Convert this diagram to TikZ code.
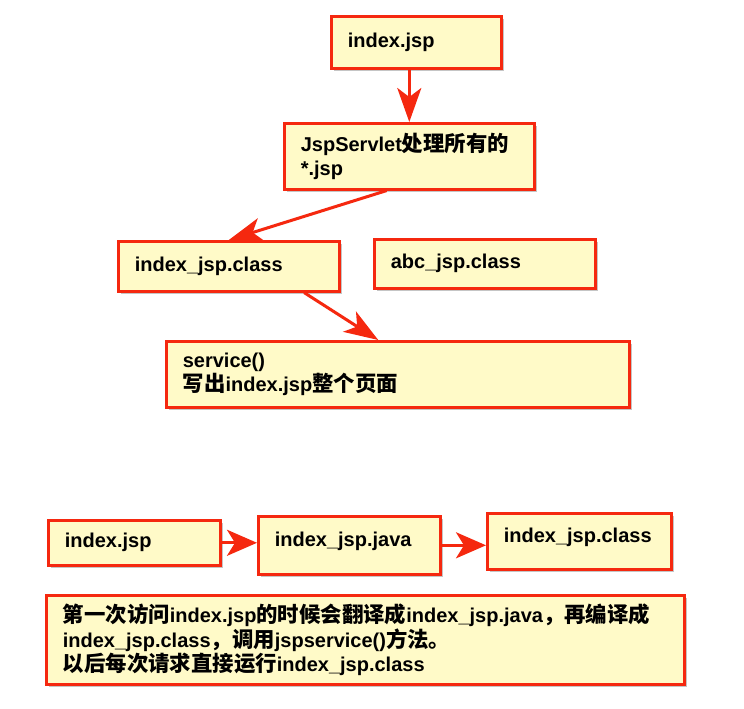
\documentclass[tikz,border=0pt]{standalone}
\usepackage{fontspec}
\setmainfont{Liberation Sans}
\newfontfamily\cjk{Noto Sans CJK SC}[Scale=1.07]
\newcommand\zh[1]{{\cjk #1}}
\usetikzlibrary{arrows.meta,shadows,calc}
\definecolor{boxfill}{RGB}{255,250,200}
\definecolor{boxred}{RGB}{245,40,15}
\tikzset{
  box/.style={draw=boxred, line width=2.6pt, fill=boxfill, anchor=north west,
    align=left, inner xsep=16.5pt, inner ysep=2pt,
    font=\fontsize{20}{24.5}\selectfont\bfseries,
    drop shadow={shadow xshift=3pt, shadow yshift=-3pt, opacity=0.45, fill=gray}},
  arr/.style={draw=boxred, line width=3pt,
    -{Stealth[length=34pt,width=24pt,inset=9pt]}},
  sarr/.style={draw=boxred, line width=3pt,
    -{Stealth[length=30pt,width=26pt,inset=8pt]}}
}
\begin{document}
\begin{tikzpicture}[x=1pt,y=-1pt]
\useasboundingbox[fill=white] (0,0) rectangle (744,709);
\node[box, minimum width=170pt, minimum height=52pt, text width=137pt] (b1) at (330,15) {index.jsp};
\node[box, minimum width=250pt, minimum height=66pt, text width=217pt] (b2) at (283,122) {JspServlet\zh{处理所有的}\\{}*.jsp};
\node[box, minimum width=221pt, minimum height=50pt, text width=188pt] (b3) at (117,240) {index\_jsp.class};
\node[box, minimum width=221pt, minimum height=49pt, text width=188pt] (b4) at (373,238) {abc\_jsp.class};
\node[box, minimum width=463pt, minimum height=66pt, text width=430pt] (b5) at (165,340) {service()\\\zh{写出}index.jsp\zh{整个页面}};
\node[box, minimum width=172pt, minimum height=45pt, text width=139pt] (b6) at (47,519) {index.jsp};
\node[box, minimum width=182pt, minimum height=58pt, text width=149pt, text depth=12pt] (b7) at (257,515) {index\_jsp.java};
\node[box, minimum width=184pt, minimum height=56pt, text width=151pt, text depth=12pt] (b8) at (486,512) {index\_jsp.class};
\node[box, minimum width=638pt, minimum height=89pt, text width=605pt] (b9) at (45,594) {\zh{第一次访问}index.jsp\zh{的时候会翻译成}index\_jsp.java\zh{，再编译成}\\index\_jsp.class\zh{，调用}jspservice()\zh{方法。}\\\zh{以后每次请求直接运行}index\_jsp.class};

\draw[arr] (b2.north |- b1.south) -- (b2.north);
\draw[arr] ($(b2.south west)!0.41!(b2.south east)$) -- (b3.north);
\draw[arr] ($(b3.south west)!0.837!(b3.south east)$) -- ($(b5.north west)!0.458!(b5.north east)$);
\draw[sarr] (b6.east) -- (b7.west |- b6.east);
\draw[sarr] (b7.east) -- (b8.west |- b7.east);
\end{tikzpicture}
\end{document}
